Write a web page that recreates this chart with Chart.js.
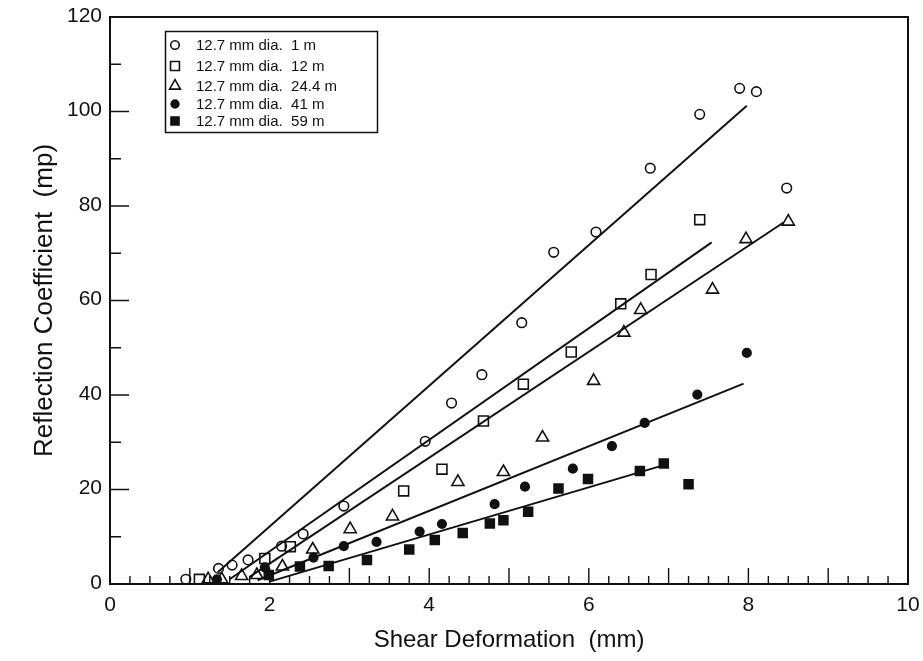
<!DOCTYPE html>
<html>
<head>
<meta charset="utf-8">
<title>Reflection Coefficient vs Shear Deformation</title>
<script src="https://cdn.jsdelivr.net/npm/chart.js@4.4.1/dist/chart.umd.min.js"></script>
<style>
    html, body { margin: 0; padding: 0; background: #fff; }
    #wrap { width: 923px; height: 661px; }
</style>
</head>
<body>
<div id="wrap"><canvas id="shearChart" width="923" height="661"></canvas></div>
<script>
// series labels (same order as the legend)
var seriesNames = [
    '12.7 mm dia.  1 m',
    '12.7 mm dia.  12 m',
    '12.7 mm dia.  24.4 m',
    '12.7 mm dia.  41 m',
    '12.7 mm dia.  59 m'];

var x1m  = [0.95, 1.36, 1.53, 1.73, 2.15, 2.42, 2.93, 3.95, 4.28, 4.66, 5.16, 5.56, 6.09, 6.77, 7.39, 7.89, 8.10, 8.48];
var y1m  = [1.0, 3.3, 4.0, 5.1, 8.0, 10.6, 16.5, 30.2, 38.3, 44.3, 55.3, 70.2, 74.5, 88.0, 99.4, 104.9, 104.2, 83.8];

var x12m = [1.12, 1.94, 2.26, 3.68, 4.16, 4.68, 5.18, 5.78, 6.40, 6.78, 7.39];
var y12m = [1.0, 5.4, 7.9, 19.7, 24.3, 34.5, 42.3, 49.1, 59.3, 65.5, 77.1];

var x24m = [1.23, 1.40, 1.65, 1.84, 2.16, 2.54, 3.01, 3.54, 4.36, 4.93, 5.42, 6.06, 6.44, 6.65, 7.55, 7.97, 8.50];
var y24m = [1.0, 1.0, 1.7, 1.9, 3.7, 7.3, 11.6, 14.3, 21.6, 23.7, 31.0, 43.0, 53.2, 58.0, 62.3, 73.0, 76.7];

var x41m = [1.34, 1.94, 2.55, 2.93, 3.34, 3.88, 4.16, 4.82, 5.20, 5.80, 6.29, 6.70, 7.36, 7.98];
var y41m = [1.0, 3.5, 5.6, 8.0, 8.9, 11.1, 12.7, 16.9, 20.6, 24.4, 29.2, 34.1, 40.1, 48.9];

var x59m = [1.99, 2.38, 2.74, 3.22, 3.75, 4.07, 4.42, 4.76, 4.93, 5.24, 5.62, 5.99, 6.64, 6.94, 7.25];
var y59m = [1.9, 3.7, 3.8, 5.1, 7.3, 9.3, 10.8, 12.8, 13.5, 15.3, 20.2, 22.2, 23.9, 25.5, 21.1];

// fitted straight lines (end points)
var fit1mX  = [1.35, 7.98];  var fit1mY  = [2.5, 101.2];
var fit12mX = [1.50, 7.54];  var fit12mY = [1.0, 72.3];
var fit24mX = [1.75, 8.44];  var fit24mY = [1.5, 76.5];
var fit41mX = [1.85, 7.94];  var fit41mY = [0.8, 42.4];
var fit59mX = [2.00, 6.93];  var fit59mY = [0.5, 25.1];

var xTicks = [0, 2, 4, 6, 8, 10];
var yTicks = [0, 20, 40, 60, 80, 100, 120];

var ink = '#111';
var fontName = '"Liberation Sans", Arial, Helvetica, sans-serif';

function pts(xs, ys) {
    return xs.map(function (x, i) { return {x: x, y: ys[i]}; });
}

var markerStyles = [
    {pointStyle: 'circle',   radius: 4.8, fill: 'rgba(0,0,0,0)'},
    {pointStyle: 'rect',     radius: 7.0, fill: 'rgba(0,0,0,0)'},
    {pointStyle: 'triangle', radius: 7.0, fill: 'rgba(0,0,0,0)'},
    {pointStyle: 'circle',   radius: 4.3, fill: ink},
    {pointStyle: 'rect',     radius: 6.3, fill: ink}];

function markerSet(i, xs, ys) {
    var m = markerStyles[i];
    return {
        label: seriesNames[i],
        data: pts(xs, ys),
        showLine: false,
        pointStyle: m.pointStyle,
        pointRadius: m.radius,
        pointHoverRadius: m.radius,
        pointBackgroundColor: m.fill,
        pointBorderColor: ink,
        pointBorderWidth: 1.6
    };
}

function fitSet(xs, ys) {
    return {
        label: 'fit',
        data: pts(xs, ys),
        showLine: true,
        borderColor: ink,
        borderWidth: 2,
        pointRadius: 0,
        fill: false
    };
}

// frame around the plot + inward tick marks
var framePlugin = {
    id: 'frame',
    afterDraw: function (chart) {
        var ctx = chart.ctx, a = chart.chartArea;
        var xs = chart.scales.x, ys = chart.scales.y;
        ctx.save();
        ctx.strokeStyle = ink;
        ctx.lineWidth = 2;
        ctx.strokeRect(a.left, a.top, a.right - a.left, a.bottom - a.top);
        ctx.lineWidth = 1.4;
        ctx.beginPath();
        for (var v = 0.25; v < 10; v += 0.25) {
            var px = xs.getPixelForValue(v);
            var len = (Math.abs(v - Math.round(v)) < 0.01) ? 16 : 8;
            ctx.moveTo(px, a.bottom);
            ctx.lineTo(px, a.bottom - len);
        }
        for (var w = 10; w < 120; w += 10) {
            var py = ys.getPixelForValue(w);
            var l2 = (w % 20 === 0) ? 19 : 11;
            ctx.moveTo(a.left, py);
            ctx.lineTo(a.left + l2, py);
        }
        ctx.stroke();
        ctx.restore();
    }
};

// boxed legend in the upper left of the plot
var legendRows = [45, 66, 86, 104, 121];
var legendPlugin = {
    id: 'boxLegend',
    afterDraw: function (chart) {
        var ctx = chart.ctx;
        ctx.save();
        ctx.strokeStyle = ink;
        ctx.lineWidth = 1.5;
        ctx.strokeRect(165.5, 31.5, 212, 101);
        ctx.font = '15px ' + fontName;
        ctx.textBaseline = 'middle';
        for (var i = 0; i < seriesNames.length; i++) {
            var m = markerStyles[i];
            ctx.fillStyle = m.fill;
            ctx.strokeStyle = ink;
            ctx.lineWidth = 1.6;
            Chart.helpers.drawPoint(ctx, {
                pointStyle: m.pointStyle,
                radius: m.radius * 0.9,
                rotation: 0,
                borderWidth: 1.6
            }, 175, legendRows[i]);
            ctx.fillStyle = ink;
            ctx.fillText(seriesNames[i], 196, legendRows[i] + 1);
        }
        ctx.restore();
    }
};

var shearChart = new Chart('shearChart', {
    type: 'scatter',
    data: {
        datasets: [
            fitSet(fit1mX, fit1mY),
            fitSet(fit12mX, fit12mY),
            fitSet(fit24mX, fit24mY),
            fitSet(fit41mX, fit41mY),
            fitSet(fit59mX, fit59mY),
            markerSet(0, x1m, y1m),
            markerSet(1, x12m, y12m),
            markerSet(2, x24m, y24m),
            markerSet(3, x41m, y41m),
            markerSet(4, x59m, y59m)
        ]
    },
    options: {
        responsive: false,
        animation: false,
        layout: {
            padding: {left: 0, right: 15, top: 17, bottom: 0}
        },
        plugins: {
            legend: {display: false},
            tooltip: {enabled: false}
        },
        scales: {
            x: {
                type: 'linear',
                min: 0,
                max: 10,
                afterBuildTicks: function (scale) {
                    scale.ticks = xTicks.map(function (v) { return {value: v}; });
                },
                afterFit: function (scale) {
                    scale.height = 77;
                    scale.paddingLeft = 0;
                    scale.paddingRight = 15;
                },
                grid: {display: false, drawTicks: false},
                border: {display: false},
                ticks: {
                    padding: 9,
                    autoSkip: false,
                    maxRotation: 0,
                    color: ink,
                    font: {family: fontName, size: 21}
                },
                title: {
                    display: true,
                    text: 'Shear Deformation  (mm)',
                    color: ink,
                    font: {family: fontName, size: 24},
                    padding: {top: 0, bottom: 6}
                }
            },
            y: {
                type: 'linear',
                min: 0,
                max: 120,
                afterBuildTicks: function (scale) {
                    scale.ticks = yTicks.map(function (v) { return {value: v}; });
                },
                afterFit: function (scale) {
                    scale.width = 110;
                    scale.paddingTop = 17;
                    scale.paddingBottom = 0;
                },
                grid: {display: false, drawTicks: false},
                border: {display: false},
                ticks: {
                    padding: 8,
                    labelOffset: -1,
                    color: ink,
                    font: {family: fontName, size: 21}
                },
                title: {
                    display: true,
                    text: 'Reflection Coefficient  (mp)',
                    color: ink,
                    font: {family: fontName, size: 26},
                    padding: {top: 29, bottom: 0}
                }
            }
        }
    },
    plugins: [framePlugin, legendPlugin]
});
</script>
</body>
</html>
